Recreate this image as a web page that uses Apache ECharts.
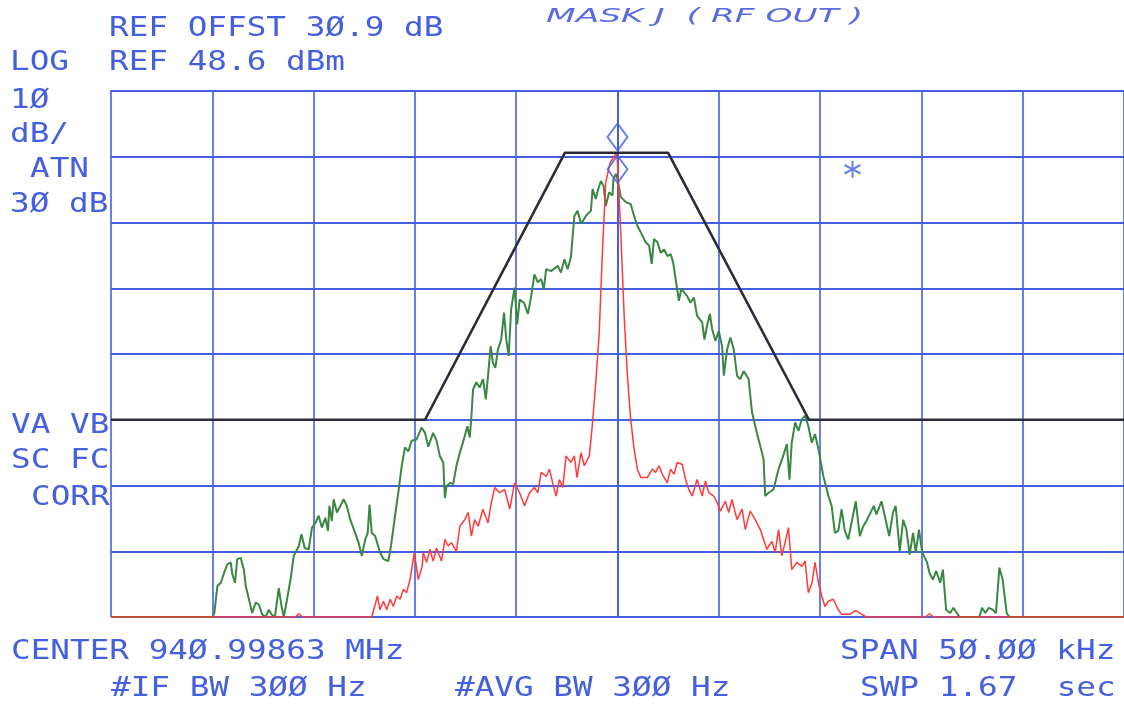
<!DOCTYPE html>
<html>
<head>
<meta charset="utf-8">
<script src="https://cdn.jsdelivr.net/npm/echarts@6/dist/echarts.min.js"></script>
<style>
html,body{margin:0;padding:0;background:#fff;}
#chart{width:1124px;height:704px;}
</style>
</head>
<body>
<div id="chart"></div>
<script>
// Frequency offset from center (kHz), level relative to REF (dB, 10 dB/div)
const xTicks = [-25, -20, -15, -10, -5, 0, 5, 10, 15, 20, 25];
const yTicks = [-80, -70, -60, -50, -40, -30, -20, -10, 0];

const maskLine = [[-25,-50],[-9.5,-50],[-2.6,-9.4],[2.5,-9.4],[9.45,-50],[25,-50]];

const greenTrace = [
[-25,-80],[-20.0,-80],[-19.9,-79.4],[-19.75,-75.3],[-19.58,-74.8],[-19.42,-73.3],[-19.26,-72.0],[-19.09,-71.7],
[-19.01,-73.5],[-18.88,-74.8],[-18.77,-71.2],[-18.6,-71.0],[-18.44,-72.8],[-18.35,-75.3],[-18.19,-77.3],[-18.03,-79.4],
[-17.86,-77.8],[-17.7,-78.1],[-17.54,-79.6],[-17.37,-80],[-17.21,-78.9],[-17.08,-79.6],[-16.91,-80],[-16.72,-75.6],
[-16.58,-78.4],[-16.47,-80],[-16.31,-77.3],[-16.14,-74.3],[-15.98,-70.7],[-15.73,-69.2],[-15.6,-67.4],[-15.44,-69.5],
[-15.24,-69.7],[-15.08,-66.4],[-14.91,-65.7],[-14.75,-64.6],[-14.59,-66.4],[-14.42,-64.9],[-14.29,-66.9],[-14.22,-63.1],
[-14.1,-65.4],[-14.01,-62.1],[-13.85,-64.1],[-13.68,-63.1],[-13.52,-62.1],[-13.36,-63.1],[-13.19,-65.2],[-12.95,-67.2],
[-12.78,-68.7],[-12.62,-70.7],[-12.45,-68.2],[-12.33,-67.2],[-12.24,-62.9],[-12.13,-67.2],[-11.96,-67.7],[-11.72,-70.2],
[-11.55,-71.2],[-11.31,-71.5],[-11.18,-69.2],[-10.98,-64.6],[-10.82,-61.1],[-10.65,-57.0],[-10.49,-54.2],[-10.32,-54.8],
[-10.16,-53.2],[-9.92,-53.0],[-9.67,-51.2],[-9.5,-52.0],[-9.34,-54.1],[-9.1,-52.0],[-8.93,-53.2],[-8.77,-55.5],
[-8.6,-56.5],[-8.52,-61.9],[-8.44,-60.1],[-8.27,-59.6],[-8.11,-59.8],[-7.95,-57.0],[-7.78,-55.0],[-7.54,-52.5],
[-7.41,-51.0],[-7.29,-52.7],[-7.21,-49.4],[-7.13,-45.4],[-6.97,-44.3],[-6.8,-45.1],[-6.64,-43.8],[-6.5,-46.9],
[-6.39,-43.3],[-6.26,-38.8],[-6.15,-41.3],[-6.03,-42.1],[-5.9,-39.3],[-5.74,-37.8],[-5.6,-33.7],[-5.49,-37.8],
[-5.37,-40.3],[-5.25,-33.2],[-5.08,-29.9],[-4.95,-35.5],[-4.83,-31.7],[-4.62,-32.2],[-4.42,-33.9],[-4.26,-31.2],
[-4.1,-27.9],[-3.93,-29.1],[-3.77,-28.6],[-3.64,-30.1],[-3.52,-27.1],[-3.28,-27.4],[-2.95,-26.6],[-2.79,-27.6],
[-2.62,-25.6],[-2.46,-27.1],[-2.3,-25.3],[-2.13,-19.0],[-1.97,-18.2],[-1.8,-20.2],[-1.56,-19.0],[-1.31,-18.2],
[-1.23,-14.9],[-1.07,-16.4],[-0.95,-14.9],[-0.82,-13.7],[-0.69,-14.4],[-0.58,-17.5],[-0.41,-15.4],[-0.25,-15.9],
[-0.2,-13.4],[-0.08,-12.6],[0,-13.4],[0.16,-16.1],[0.41,-16.9],[0.65,-17.2],[0.82,-19.0],[0.98,-20.5],
[1.15,-21.5],[1.39,-23.0],[1.56,-23.5],[1.69,-26.3],[1.8,-22.5],[1.97,-23.0],[2.13,-24.6],[2.3,-24.1],
[2.46,-25.1],[2.62,-24.8],[2.75,-26.1],[2.87,-28.6],[3.03,-31.9],[3.15,-30.1],[3.28,-30.6],[3.44,-31.2],
[3.6,-32.2],[3.77,-31.4],[3.93,-34.2],[4.18,-35.2],[4.29,-37.8],[4.42,-35.7],[4.56,-33.9],[4.67,-36.2],
[4.83,-38.0],[5.0,-36.5],[5.16,-38.8],[5.25,-43.3],[5.41,-39.3],[5.57,-37.5],[5.74,-39.3],[5.9,-43.3],
[6.06,-43.8],[6.23,-42.6],[6.47,-43.8],[6.64,-48.9],[6.88,-52.0],[7.13,-55.0],[7.21,-56.0],[7.29,-61.6],
[7.46,-61.1],[7.7,-60.6],[7.95,-57.5],[8.2,-55.3],[8.36,-53.7],[8.49,-59.1],[8.6,-53.5],[8.77,-50.4],
[8.93,-51.7],[9.1,-49.9],[9.26,-49.4],[9.42,-51.0],[9.59,-53.5],[9.75,-52.2],[9.92,-54.5],[10.16,-58.6],
[10.41,-61.6],[10.57,-63.1],[10.73,-67.2],[10.9,-66.9],[11.06,-63.6],[11.22,-66.9],[11.39,-68.2],[11.55,-65.7],
[11.76,-62.4],[11.96,-67.7],[12.13,-66.2],[12.29,-65.4],[12.45,-64.4],[12.65,-63.1],[12.78,-64.4],[13.03,-62.4],
[13.19,-64.6],[13.41,-67.7],[13.6,-64.1],[13.73,-63.1],[13.93,-70.0],[14.1,-65.2],[14.26,-66.7],[14.42,-70.5],
[14.59,-67.2],[14.72,-70.2],[14.88,-66.7],[15.04,-70.2],[15.28,-71.7],[15.4,-73.3],[15.57,-74.3],[15.73,-73.0],
[15.93,-74.8],[16.06,-72.8],[16.22,-78.9],[16.42,-79.4],[16.58,-78.6],[16.75,-79.4],[16.88,-80],[17.86,-80],
[17.99,-78.6],[18.16,-79.4],[18.32,-78.6],[18.52,-78.9],[18.68,-79.4],[18.85,-72.5],[19.01,-74.3],[19.21,-79.4],
[19.34,-80],[25,-80]
];

const redTrace = [
[-25,-80],[-15.9,-80],[-15.73,-79.5],[-15.55,-80],[-12.13,-80],[-11.96,-78.1],[-11.85,-76.8],[-11.72,-78.9],[-11.55,-77.6],
[-11.39,-78.9],[-11.22,-77.3],[-11.06,-78.4],[-10.9,-76.8],[-10.73,-77.3],[-10.57,-75.8],[-10.41,-76.3],[-10.24,-74.3],
[-10.03,-70.2],[-9.83,-74.3],[-9.64,-72.3],[-9.59,-70.2],[-9.42,-71.7],[-9.26,-69.7],[-9.1,-71.5],[-8.93,-69.5],
[-8.69,-71.5],[-8.52,-68.2],[-8.36,-69.2],[-8.2,-68.7],[-7.95,-70.0],[-7.78,-66.2],[-7.54,-65.2],[-7.37,-64.1],
[-7.21,-67.7],[-7.05,-65.2],[-6.88,-66.2],[-6.64,-63.6],[-6.39,-65.7],[-6.23,-62.6],[-6.06,-60.3],[-5.82,-61.1],
[-5.57,-60.6],[-5.32,-63.6],[-5.08,-59.6],[-4.83,-61.1],[-4.59,-63.1],[-4.34,-61.1],[-4.1,-60.3],[-3.93,-61.1],
[-3.77,-58.0],[-3.52,-58.6],[-3.36,-57.5],[-3.2,-59.6],[-3.03,-61.6],[-2.87,-59.1],[-2.7,-60.3],[-2.54,-55.5],
[-2.3,-56.5],[-2.13,-55.5],[-2.0,-58.8],[-1.8,-55.0],[-1.64,-57.0],[-1.39,-55.5],[-1.23,-50.4],[-1.07,-44.3],
[-0.9,-36.7],[-0.74,-24.1],[-0.58,-13.9],[-0.36,-10.9],[-0.05,-9.4],[0,-10.8],[0.16,-21.5],[0.33,-34.2],
[0.49,-43.3],[0.65,-49.9],[0.82,-54.5],[0.98,-57.5],[1.15,-58.8],[1.47,-58.8],[1.72,-57.5],[1.88,-58.0],
[2.05,-57.0],[2.21,-58.3],[2.46,-59.6],[2.62,-57.5],[2.79,-58.3],[2.95,-56.5],[3.2,-56.8],[3.36,-59.1],
[3.52,-60.6],[3.69,-61.6],[3.93,-59.1],[4.18,-61.6],[4.34,-59.3],[4.51,-61.1],[4.75,-61.6],[4.92,-62.6],
[5.08,-63.9],[5.32,-62.4],[5.49,-64.1],[5.65,-62.1],[5.9,-65.2],[6.15,-63.6],[6.31,-66.7],[6.55,-63.9],
[6.8,-65.2],[7.05,-66.7],[7.21,-68.2],[7.37,-69.7],[7.62,-68.5],[7.78,-70.2],[7.95,-66.7],[8.11,-70.7],
[8.27,-68.7],[8.44,-66.4],[8.6,-72.8],[8.85,-71.7],[9.1,-72.3],[9.26,-71.5],[9.42,-76.3],[9.6,-74.8],
[9.75,-71.7],[9.92,-74.8],[10.08,-76.8],[10.24,-78.4],[10.41,-77.6],[10.65,-77.3],[10.9,-78.9],[11.06,-79.6],
[11.47,-79.6],[11.76,-79.0],[12.05,-79.6],[12.29,-80],[15.2,-80],[15.4,-79.5],[15.6,-80],[25,-80]
];

const markerPoints = [[0,-7.0],[0,-11.9]];
const starPoint = [[11.6,-11.9]];

const headerLines = [
  {t:'REF OFFST 3\u00D8.9 dB', x:109, y:28.5},
  {t:'LOG', x:10, y:63},
  {t:'REF 48.6 dBm', x:109, y:63},
  {t:'1\u00D8', x:10, y:101},
  {t:'dB/', x:10, y:135},
  {t:'ATN', x:30, y:170},
  {t:'3\u00D8 dB', x:10, y:205},
  {t:'VA VB', x:11, y:426},
  {t:'SC FC', x:11, y:461},
  {t:'CORR', x:31, y:498},
  {t:'CENTER 94\u00D8.99863 MHz', x:11, y:652},
  {t:'#IF BW 3\u00D8\u00D8 Hz', x:111, y:689},
  {t:'#AVG BW 3\u00D8\u00D8 Hz', x:455, y:689},
  {t:'SPAN 5\u00D8.\u00D8\u00D8 kHz', x:840, y:652},
  {t:'SWP 1.67  sec', x:860, y:689}
];
const noteText = 'MASK J  ( RF OUT )';

const BLUE = '#4560de';
const chart = echarts.init(document.getElementById('chart'), null, {renderer:'canvas'});

const graphics = headerLines.map(h => ({
  type:'text', x:h.x, y:h.y, scaleX:1.21, silent:true,
  style:{text:h.t, font:'27px "DejaVu Sans Mono"', fill:BLUE, verticalAlign:'middle', align:'left'}
}));
graphics.push({
  type:'text', x:546, y:17, scaleX:1.72, silent:true,
  style:{text:noteText, font:'italic 20px "DejaVu Sans"', fill:'#5a6be0', verticalAlign:'middle', align:'left'}
});

chart.setOption({
  animation:false,
  backgroundColor:'#fff',
  grid:{left:111, top:91, right:-4.5, bottom:87, show:false},
  xAxis:{type:'value', min:-25, max:25, interval:5,
    axisLine:{show:true, lineStyle:{color:BLUE, width:2}}, axisTick:{show:false}, axisLabel:{show:false},
    splitLine:{show:true, lineStyle:{color:BLUE, width:1.6}}},
  yAxis:{type:'value', min:-80, max:0, interval:10,
    axisLine:{show:true, lineStyle:{color:BLUE, width:2}}, axisTick:{show:false}, axisLabel:{show:false},
    splitLine:{show:true, lineStyle:{color:BLUE, width:2}}},
  graphic:graphics,
  series:[
    {type:'line', name:'trace B', data:greenTrace, symbol:'none', lineStyle:{color:'#3a8744', width:2}, z:3},
    {type:'line', name:'trace A', data:redTrace, symbol:'none', lineStyle:{color:'#ff3a3a', width:1.5}, z:4},
    {type:'line', name:'mask', data:maskLine, symbol:'none', lineStyle:{color:'#2c2c38', width:2.6}, z:5},
    {type:'scatter', name:'markers', data:markerPoints, symbol:'diamond', symbolSize:[20,27],
      itemStyle:{color:'rgba(255,255,255,0)', borderColor:BLUE, borderWidth:2}, z:6},
    {type:'scatter', name:'star', data:starPoint, symbol:'path://M0,-10L0,10M-8.66,-5L8.66,5M-8.66,5L8.66,-5',
      symbolSize:[16,17], itemStyle:{color:'rgba(0,0,0,0)', borderColor:BLUE, borderWidth:2}, z:6}
  ]
});
</script>
</body>
</html>
